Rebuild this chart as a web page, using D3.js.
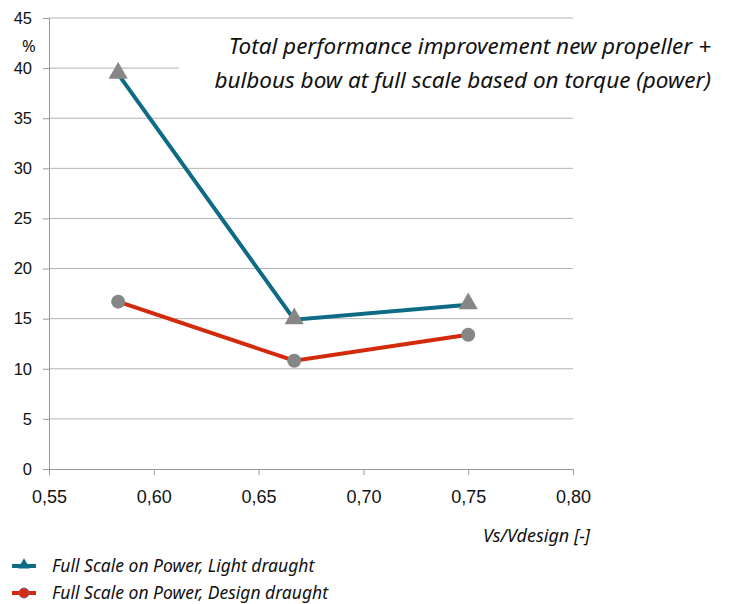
<!DOCTYPE html>
<html>
<head>
<meta charset="utf-8">
<script src="https://cdn.jsdelivr.net/npm/d3@7"></script>
<style>
    body { margin: 0; background: #fff; }
    svg { font-family: "Noto Sans", "Open Sans", sans-serif; }
    .grid line { stroke: #b3b3b3; stroke-width: 1; }
    .axis path, .axis line { stroke: #999; }
    .axis text { fill: #111; }
</style>
</head>
<body>
<div id="chart"></div>
<script>
// values
var speeds = [0.583, 0.667, 0.75];
var lightDraught = [39.4, 14.9, 16.4];
var designDraught = [16.7, 10.8, 13.4];
var xTicks = [0.55, 0.60, 0.65, 0.70, 0.75, 0.80];
var yTicks = [0, 5, 10, 15, 20, 25, 30, 35, 40, 45];
var seriesNames = ["Full Scale on Power, Light draught", "Full Scale on Power, Design draught"];
var titleLines = ["Total performance improvement new propeller +", "bulbous bow at full scale based on torque (power)"];

var width = 729, height = 604;
var margin = {top: 18, right: 156, bottom: 135, left: 49};
var plotW = width - margin.left - margin.right,
    plotH = height - margin.top - margin.bottom;

var svg = d3.select("#chart")
    .append("svg")
    .attr("width", width)
    .attr("height", height);

var g = svg.append("g")
    .attr("transform", "translate(" + margin.left + "," + margin.top + ")");

var xScale = d3.scaleLinear().domain([0.55, 0.80]).range([0, plotW]);
var yScale = d3.scaleLinear().domain([0, 45]).range([plotH, 0]);
var fmt = function (d) { return d3.format(".2f")(d).replace(".", ","); };

// horizontal gridlines
g.append("g")
    .attr("class", "grid")
    .selectAll("line")
    .data(yTicks.filter(function (d) { return d > 0; }))
    .enter().append("line")
    .attr("x1", 0)
    .attr("x2", plotW)
    .attr("y1", function (d) { return yScale(d); })
    .attr("y2", function (d) { return yScale(d); });

var yAxis = d3.axisLeft(yScale).tickValues(yTicks).tickSize(6).tickPadding(11);
var xAxis = d3.axisBottom(xScale).tickValues(xTicks).tickSize(6).tickPadding(15).tickFormat(fmt);

g.append("g").attr("class", "y axis").call(yAxis);
g.append("g").attr("class", "x axis")
    .attr("transform", "translate(0," + plotH + ")")
    .call(xAxis);

d3.selectAll(".axis path.domain").attr("stroke", "#999");
d3.selectAll(".y.axis text").style("font-size", "16.5px");
d3.selectAll(".x.axis text").style("font-size", "18px");

// white box behind the title (hides part of the 40 gridline)
g.append("rect")
    .attr("x", 130)
    .attr("y", yScale(44.3))
    .attr("width", plotW - 129)
    .attr("height", yScale(36) - yScale(44.3))
    .attr("fill", "#fff");

svg.append("text")
    .attr("x", 22)
    .attr("y", 52)
    .style("font-size", "16.5px")
    .attr("fill", "#111")
    .text("%");

var line = d3.line()
    .x(function (d, i) { return xScale(speeds[i]); })
    .y(function (d) { return yScale(d); });

var tealC = "#0d6b85", redC = "#d42a0c", markC = "#868686";

g.append("path")
    .attr("d", line(lightDraught))
    .attr("fill", "none")
    .attr("stroke", tealC)
    .attr("stroke-width", 4);

g.append("path")
    .attr("d", line(designDraught))
    .attr("fill", "none")
    .attr("stroke", redC)
    .attr("stroke-width", 4);

var tri = d3.symbol().type(d3.symbolTriangle).size(160);

g.selectAll(".tri")
    .data(lightDraught)
    .enter().append("path")
    .attr("class", "tri")
    .attr("d", tri)
    .attr("transform", function (d, i) {
        return "translate(" + xScale(speeds[i]) + "," + (yScale(d) - 1) + ")";
    })
    .attr("fill", markC);

g.selectAll(".dot")
    .data(designDraught)
    .enter().append("circle")
    .attr("class", "dot")
    .attr("cx", function (d, i) { return xScale(speeds[i]); })
    .attr("cy", function (d) { return yScale(d); })
    .attr("r", 7)
    .attr("fill", markC);

// title
svg.append("g").selectAll("text")
    .data(titleLines)
    .enter().append("text")
    .attr("x", 711)
    .attr("y", function (d, i) { return 54 + i * 34; })
    .attr("text-anchor", "end")
    .style("font-style", "italic")
    .style("font-size", "22.5px")
    .attr("fill", "#111")
    .text(function (d) { return d; });

svg.append("text")
    .attr("x", 590)
    .attr("y", 542)
    .attr("text-anchor", "end")
    .style("font-style", "italic")
    .style("font-size", "18px")
    .attr("fill", "#111")
    .text("Vs/Vdesign [-]");

// legend
var legend = svg.append("g").attr("transform", "translate(12,566)");
var items = legend.selectAll("g")
    .data(seriesNames)
    .enter().append("g")
    .attr("transform", function (d, i) { return "translate(0," + i * 27 + ")"; });

items.append("line")
    .attr("x1", 0).attr("x2", 24)
    .attr("stroke", function (d, i) { return i === 0 ? tealC : redC; })
    .attr("stroke-width", 4);

items.filter(function (d, i) { return i === 0; })
    .append("path")
    .attr("d", d3.symbol().type(d3.symbolTriangle).size(60))
    .attr("transform", "translate(12,-1)")
    .attr("fill", tealC);

items.filter(function (d, i) { return i === 1; })
    .append("circle")
    .attr("cx", 12)
    .attr("r", 5)
    .attr("fill", redC)
    .attr("stroke", "#8a5a9a")
    .attr("stroke-width", 1);

items.append("text")
    .attr("x", 40)
    .attr("dy", "0.35em")
    .style("font-style", "italic")
    .style("font-size", "17.5px")
    .attr("fill", "#111")
    .text(function (d) { return d; });
</script>
</body>
</html>
